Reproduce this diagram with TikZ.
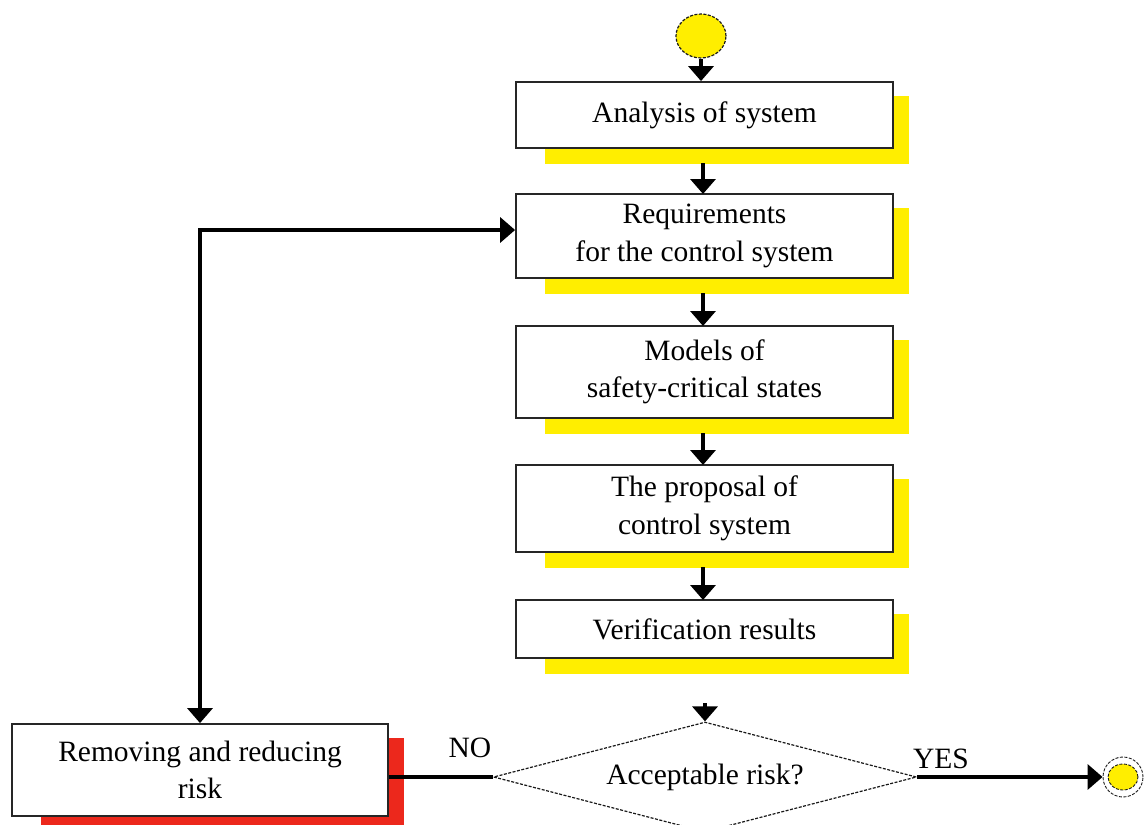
\documentclass[tikz,border=0pt]{standalone}
\usepackage{fontspec}
\setmainfont{Liberation Serif}
\usetikzlibrary{arrows.meta,shapes.geometric,backgrounds}
\definecolor{shyellow}{RGB}{255,238,0}
\definecolor{shred}{RGB}{236,40,28}
\begin{document}
\begin{tikzpicture}[x=1pt,y=-1pt,
  font=\fontsize{29.5}{37.5}\selectfont,
  stepbox/.style={draw=black!85,line width=1.8pt,fill=white,rectangle,minimum width=377pt,align=center,inner sep=0pt},
  tip/.tip={Triangle[length=15pt,width=25pt]},
  conn/.style={line width=3.5pt,-tip},
  both/.style={line width=3.5pt,tip-tip},
  plain/.style={line width=3.5pt},
  dsh/.style={draw=black!90,line width=1.2pt,dash pattern=on 3pt off 1.5pt},
  lbl/.style={inner sep=0pt}]
\clip (0,0) rectangle (1144,825);
\useasboundingbox (0,0) rectangle (1144,825);
\node[ellipse,dsh,fill=shyellow,minimum width=50pt,minimum height=44pt,inner sep=0pt] (start) at (701,36) {};
\node[stepbox,minimum height=66pt] (b1) at (704.5,115) {Analysis of system};
\node[stepbox,minimum height=84pt] (b2) at (704.5,236) {Requirements\\for the control system};
\node[stepbox,minimum height=92pt] (b3) at (704.5,372) {Models of\\safety-critical states};
\node[stepbox,minimum height=87pt] (b4) at (704.5,508.5) {The proposal of\\control system};
\node[stepbox,minimum height=58pt] (b5) at (704.5,629) {Verification results};
\node[stepbox,minimum width=376pt,minimum height=92pt] (rr) at (200,770) {Removing and reducing\\risk};
\node[diamond,dsh,minimum width=423pt,minimum height=110pt,aspect=3.85,inner sep=0pt] (dec) at (705,777) {Acceptable risk?};
\node[circle,dsh,line width=0.9pt,minimum size=40pt,inner sep=0pt] (endo) at (1123,777) {};
\node[ellipse,dsh,line width=0.9pt,fill=shyellow,minimum width=30pt,minimum height=26pt,inner sep=0pt] (endi) at (1123,777) {};
\coordinate (vtop) at (705,703);
\begin{scope}[on background layer]
\foreach \b in {b1,b2,b3,b4,b5}{
  \fill[shyellow] ([xshift=30pt,yshift=-15pt]\b.north west) rectangle ([xshift=15pt,yshift=-15pt]\b.south east);
}
\fill[shred] ([xshift=30pt,yshift=-15pt]rr.north west) rectangle ([xshift=15pt,yshift=-15pt]rr.south east);
\end{scope}
\draw[conn] (start.south) -- (start.south |- b1.north);
\draw[conn] (703,163) -- (703,194);
\draw[conn] (703,293) -- (703,326);
\draw[conn] (703,433) -- (703,465);
\draw[conn] (703,567) -- (703,600);
\draw[conn] (vtop) -- (dec.north);
\draw[plain] (dec.west) -- (rr.east |- dec.west);
\draw[conn] (dec.east) -- (endo.west);
\draw[both] (rr.north) |- ([yshift=6pt]b2.west);
\node[lbl] (no) at (470,748) {NO};
\node[lbl] (yes) at (941,759) {YES};
\end{tikzpicture}
\end{document}
